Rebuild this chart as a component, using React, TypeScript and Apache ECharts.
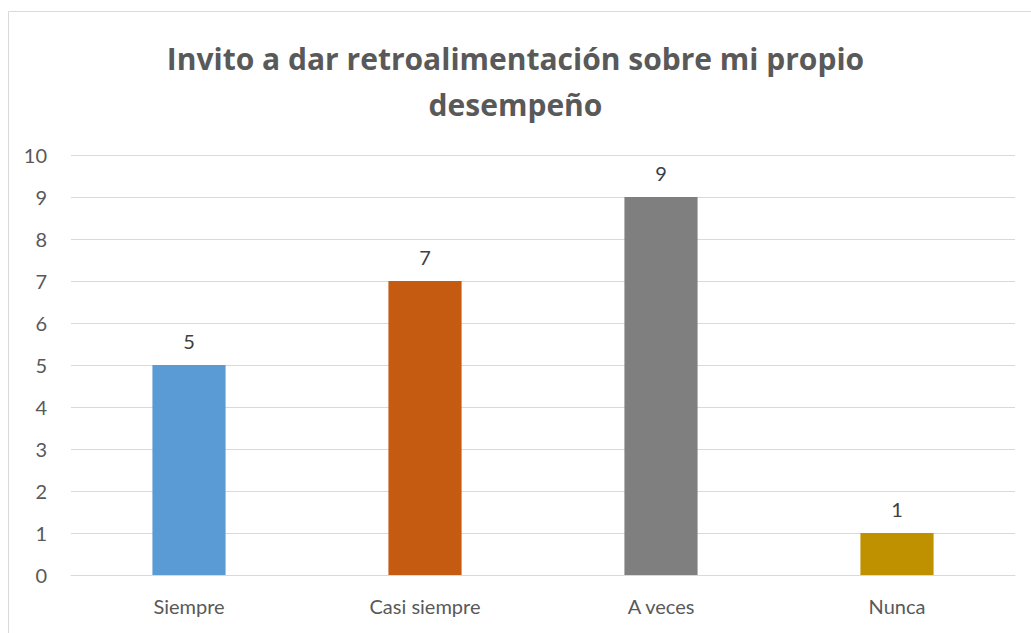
import React, { useEffect, useRef } from "react";
import * as echarts from "echarts";

const categories = ["Siempre", "Casi siempre", "A veces", "Nunca"];
const values = [5, 7, 9, 1];
const barColors = ["#5B9BD5", "#C55A11", "#7F7F7F", "#BF9000"];
const titleText = "Invito a dar retroalimentación sobre mi propio\ndesempeño";

export default function App() {
  const ref = useRef<HTMLDivElement>(null);
  useEffect(() => {
    if (!ref.current) return;
    const chart = echarts.init(ref.current, undefined, { renderer: "svg" });
    chart.setOption({
      animation: false,
      backgroundColor: "#ffffff",
      title: {
        text: titleText,
        left: "center",
        top: 30,
        textStyle: {
          fontFamily: "Open Sans",
          fontWeight: "bold",
          fontSize: 30,
          lineHeight: 46,
          color: "#595959",
        },
      },
      graphic: [
        {
          type: "rect",
          shape: { x: 8.5, y: 11.5, width: 1040, height: 640 },
          style: { fill: "none", stroke: "#d9d9d9", lineWidth: 1 },
          silent: true,
        },
      ],
      grid: { left: 71, right: 16, top: 155, bottom: 58, containLabel: false },
      xAxis: {
        type: "category",
        data: categories,
        axisLine: { show: true, lineStyle: { color: "#d9d9d9", width: 1 } },
        axisTick: { show: false },
        axisLabel: {
          color: "#595959",
          fontFamily: "Lato",
          fontSize: 20,
          margin: 21,
        },
      },
      yAxis: {
        type: "value",
        min: 0,
        max: 10,
        interval: 1,
        axisLine: { show: false },
        axisTick: { show: false },
        splitLine: { lineStyle: { color: "#d9d9d9", width: 1 } },
        axisLabel: {
          color: "#595959",
          fontFamily: "Lato",
          fontSize: 20,
          margin: 24,
        },
      },
      series: [
        {
          type: "bar",
          data: values.map((v, i) => ({ value: v, itemStyle: { color: barColors[i] } })),
          barWidth: "31%",
          label: {
            show: true,
            position: "top",
            distance: 14,
            color: "#404040",
            fontFamily: "Lato",
            fontSize: 20,
          },
        },
      ],
    });
    return () => chart.dispose();
  }, []);
  return (
    <div style={{ position: "fixed", left: 0, top: 0, width: 1031, height: 633, overflow: "hidden" }}>
      <div ref={ref} style={{ width: 1031, height: 633 }} />
    </div>
  );
}
